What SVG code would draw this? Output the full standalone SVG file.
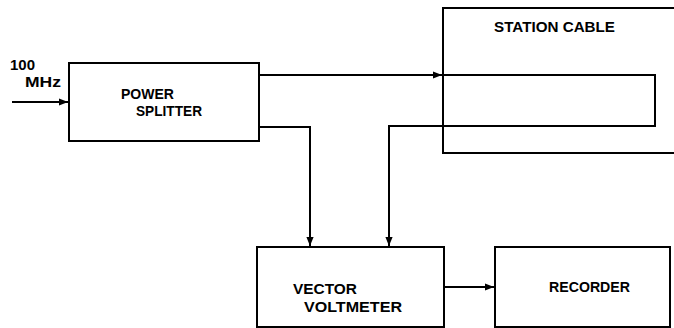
<svg xmlns="http://www.w3.org/2000/svg" width="674" height="328" viewBox="0 0 674 328">
<style>
.box{fill:#fff;stroke:#000;stroke-width:2}
.ln{fill:none;stroke:#000;stroke-width:2}
text{font-family:"Liberation Sans",Arial,sans-serif;font-size:15px;font-weight:bold;fill:#000}
</style>
<defs>
<marker id="ah" viewBox="0 0 10 10" refX="10" refY="5" markerWidth="14" markerHeight="9" markerUnits="userSpaceOnUse" orient="auto">
<path d="M0,1 L10,5 L0,9 Z" fill="#000"/>
</marker>
</defs>
<rect width="674" height="328" fill="#fff"/>
<g id="station-cable">
<path class="ln" d="M675,8 H443 V153 H675"/>
<text x="494" y="32" textLength="121" lengthAdjust="spacingAndGlyphs">STATION CABLE</text>
</g>
<g id="power-splitter">
<rect class="box" x="69" y="63" width="190" height="78"/>
<text x="121" y="99" textLength="53" lengthAdjust="spacingAndGlyphs">POWER</text>
<text x="136" y="116" textLength="66" lengthAdjust="spacingAndGlyphs">SPLITTER</text>
</g>
<g id="vector-voltmeter">
<rect class="box" x="257" y="247" width="187" height="80"/>
<text x="293" y="294" textLength="64" lengthAdjust="spacingAndGlyphs">VECTOR</text>
<text x="304" y="312" textLength="98" lengthAdjust="spacingAndGlyphs">VOLTMETER</text>
</g>
<g id="recorder">
<rect class="box" x="495" y="247" width="175" height="80"/>
<text x="549" y="292" textLength="81" lengthAdjust="spacingAndGlyphs">RECORDER</text>
</g>
<g id="input-label">
<text x="10" y="70" textLength="25" lengthAdjust="spacingAndGlyphs">100</text>
<text x="25" y="87" textLength="36" lengthAdjust="spacingAndGlyphs">MHz</text>
</g>
<g id="connectors">
<path class="ln" d="M12,102 H68" marker-end="url(#ah)"/>
<path class="ln" d="M259,75 H442" marker-end="url(#ah)"/>
<path class="ln" d="M443,75 H655 V126 H389 V246" marker-end="url(#ah)"/>
<path class="ln" d="M259,127 H310 V246" marker-end="url(#ah)"/>
<path class="ln" d="M444,287 H494" marker-end="url(#ah)"/>
</g>
</svg>
